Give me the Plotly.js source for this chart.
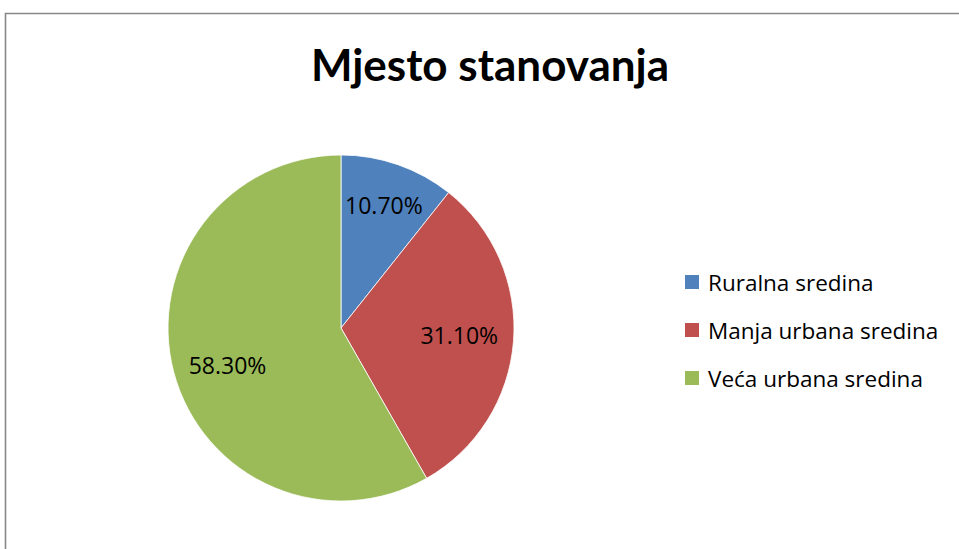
<!DOCTYPE html>
<html>
<head>
<meta charset="utf-8">
<script src="https://cdn.plot.ly/plotly-3.0.1.min.js"></script>
<style>html,body{margin:0;padding:0;background:#fff}#chart{width:959px;height:549px}</style>
</head>
<body>
<div id="chart"></div>
<script>
const categories = ["Ruralna sredina", "Manja urbana sredina", "Veća urbana sredina"];
const values = [10.7, 31.1, 58.3];
const colors = ["#4F81BD", "#C0504D", "#9BBB59"];
const chartTitle = "Mjesto stanovanja";

const W = 959, H = 549;
const px = x => x / W;
const py = y => 1 - y / H;

const legendX = 685, legendTextX = 706, legendY0 = 282, legendStep = 48, sq = 14;
const NB = "\u00a0";
// label padding (layout only) to nudge Plotly's inside-text placement
const padBefore = ["", NB.repeat(8), NB + "<br>"];
const padAfter = ["", "", NB.repeat(10)];

const shapes = [{
  type: "rect", xref: "paper", yref: "paper",
  x0: px(5.5), x1: 1.2, y0: -0.2, y1: py(13.5),
  line: {color: "#888888", width: 1.6}, fillcolor: "rgba(0,0,0,0)", layer: "above"
}];
const annotations = [];
categories.forEach((c, i) => {
  const yc = legendY0 + i * legendStep;
  shapes.push({
    type: "rect", xref: "paper", yref: "paper",
    x0: px(legendX), x1: px(legendX + sq), y0: py(yc + sq / 2), y1: py(yc - sq / 2),
    line: {width: 0}, fillcolor: colors[i]
  });
  annotations.push({
    xref: "paper", yref: "paper", x: px(legendTextX), y: py(yc),
    xanchor: "left", yanchor: "middle", showarrow: false, text: c,
    font: {family: "Open Sans, sans-serif", size: 22.5, color: "#000"}
  });
});

const data = [{
  type: "pie",
  labels: categories,
  values: values,
  text: values.map((v, i) => padBefore[i] + v.toFixed(2) + "%" + padAfter[i]),
  sort: false,
  direction: "clockwise",
  rotation: 0,
  marker: {colors: colors, line: {color: "#ffffff", width: 0.8}},
  texttemplate: "%{text}",
  textposition: "inside",
  insidetextorientation: "horizontal",
  textfont: {family: "Open Sans, sans-serif", size: 23, color: "#000"},
  hoverinfo: "label+value",
  showlegend: false,
  domain: {x: [px(341 - 173), px(341 + 173)], y: [py(501), py(155)]}
}];

const layout = {
  width: W, height: H,
  margin: {l: 0, r: 0, t: 0, b: 0},
  paper_bgcolor: "#ffffff",
  showlegend: false,
  title: {
    text: "<b>" + chartTitle + "</b>",
    x: px(490), xanchor: "center", y: py(66), yanchor: "middle",
    font: {family: "Lato, sans-serif", size: 44, color: "#000"}
  },
  shapes: shapes,
  annotations: annotations
};

Plotly.newPlot("chart", data, layout, {displayModeBar: false, staticPlot: true});
</script>
</body>
</html>
